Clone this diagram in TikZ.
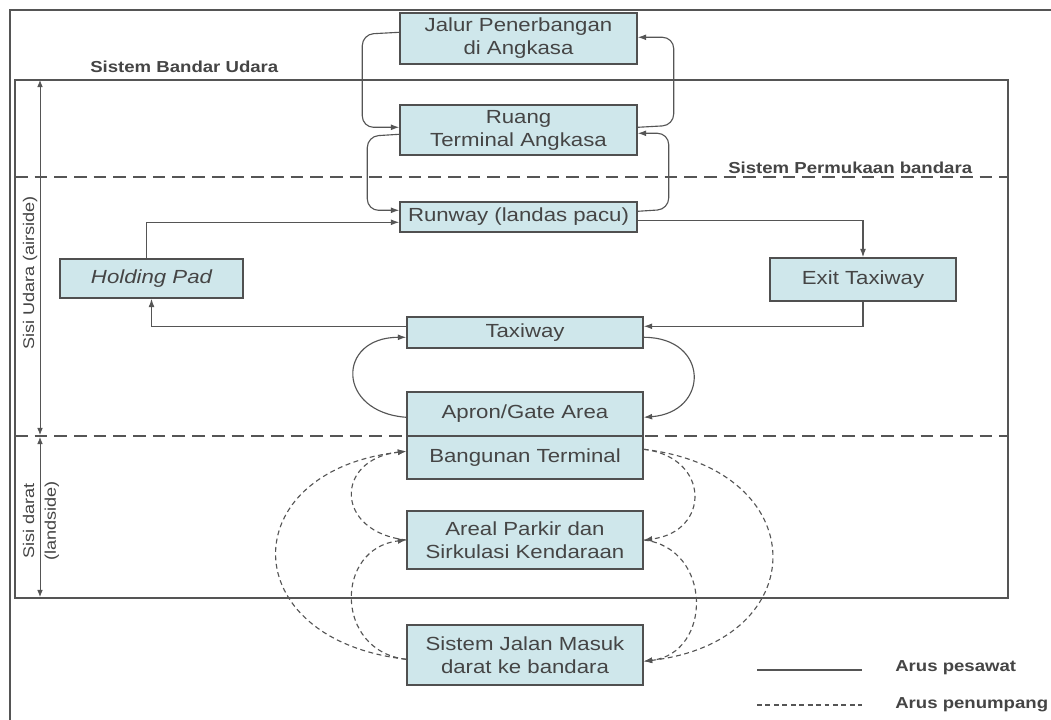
\documentclass[tikz,border=0pt]{standalone}
\usepackage{fontspec}
\setmainfont{Liberation Sans}[FakeStretch=1.17]
\usetikzlibrary{arrows.meta,calc}
\definecolor{boxfill}{HTML}{CFE7EB}
\definecolor{boxline}{HTML}{505050}
\definecolor{ink}{HTML}{454545}
\definecolor{lin}{HTML}{555555}
\begin{document}
\begin{tikzpicture}[x=0.025cm,y=-0.025cm,
  box/.style 2 args={draw=boxline, line width=1pt, fill=boxfill, text=ink, inner sep=0pt, align=center,
     minimum width=#1*0.025cm, minimum height=#2*0.025cm, font=\fontsize{13.5}{16.4}\selectfont},
  flow/.style={draw=lin, line width=0.8pt, -{Latex[length=6pt,width=4.2pt]}},
  pax/.style={flow, dash pattern=on 3.5pt off 2.5pt},
  lbl/.style={text=ink, font=\fontsize{11.3}{13}\selectfont\bfseries, inner sep=0pt},
  side/.style={text=ink, inner sep=0pt, rotate=90, align=center, font=\fontsize{11}{15.6}\selectfont},
  sep/.style={draw=lin, line width=1pt, dash pattern=on 9pt off 5pt},
  dim/.style={draw=lin, line width=0.6pt, {Latex[length=5pt,width=4pt]}-{Latex[length=5pt,width=4pt]}},
]
\useasboundingbox (0,0) rectangle (1051,720);
\fill[white] (0,0) rectangle (1051,720);

% frames
\draw[lin, line width=1.3pt] (1051,10) -- (10,10) -- (10,720);
\draw[lin, line width=1.4pt] (15,80) rectangle (1008,598);
\draw[sep] (15,177) -- (1008,177);
\draw[sep] (15,436) -- (1008,436);

% labels
\node[lbl, anchor=west] (sbu) at (90,67) {Sistem Bandar Udara};
\node[lbl, anchor=west] (spb) at (728,168) {Sistem Permukaan bandara};
\node[side] (airside) at (30,273) {Sisi Udara (airside)};
\node[side] (landside) at (41,521) {Sisi darat\\(landside)};

% dimension arrows
\coordinate (d1) at (40,80);
\coordinate (d2) at (40,435);
\coordinate (d3) at (40,437);
\coordinate (d4) at (40,597);
\draw[dim] (d1) -- (d2);
\draw[dim] (d3) -- (d4);

% boxes
\node[box={237}{51}] (jalur) at (518.5,38.5) {Jalur Penerbangan\\di Angkasa};
\node[box={237}{50}] (ruang) at (518.5,130) {Ruang\\Terminal Angkasa};
\node[box={237}{30}] (runway) at (518.5,217) {Runway (landas pacu)};
\node[box={183}{39}] (hold) at (151.5,278.5) {\itshape Holding Pad};
\node[box={186}{43}] (exit) at (863,279.5) {Exit Taxiway};
\node[box={236}{31}] (taxi) at (525,332.5) {Taxiway};
\node[box={236}{44}] (apron) at (525,414) {Apron/Gate Area};
\node[box={236}{43}] (bang) at (525,457.5) {Bangunan Terminal};
\node[box={236}{58}] (areal) at (525,540) {Areal Parkir dan\\Sirkulasi Kendaraan};
\node[box={236}{60}] (jalan) at (525,655) {Sistem Jalan Masuk\\darat ke bandara};

% aircraft flow
\draw[flow, rounded corners=8pt] ($(jalur.north west)+(0,20)$) -- ++(-37,2) |- ($(ruang.north west)+(0,23)$);
\draw[flow, rounded corners=8pt] ($(ruang.north west)+(0,30)$) -- ++(-32,2) |- ($(runway.north west)+(0,9)$);
\draw[flow, rounded corners=8pt] ($(ruang.north east)+(0,23)$) -- ++(36,-2) |- ($(jalur.north east)+(0,25)$);
\draw[flow, rounded corners=8pt] ($(runway.north east)+(0,10)$) -- ++(31,-2) |- ($(ruang.north east)+(0,29)$);
\draw[flow] ($(hold.north west)+(87,0)$) |- ($(runway.north west)+(0,21)$);
\draw[flow] ($(runway.north east)+(0,19)$) -| (exit.north);
\draw[flow] (exit.south) |- ($(taxi.north east)+(0,10)$);
\draw[flow] ($(taxi.north west)+(0,10)$) -| (hold.south);
\draw[flow] ($(apron.north west)+(0,26)$) .. controls +(-70,-5) and +(-70,0) .. ($(taxi.north west)+(0,21)$);
\draw[flow] ($(taxi.north east)+(0,21)$) .. controls +(66,0) and +(66,-5) .. ($(apron.north east)+(0,26)$);

% passenger flow
\draw[pax] ($(jalan.north west)+(0,35)$) .. controls +(-173,-20) and +(-173,20) .. ($(bang.north west)+(0,16)$);
\draw[pax] (areal.west) .. controls +(-72,-8) and +(-72,8) .. ($(bang.north west)+(0,16)$);
\draw[pax] ($(jalan.north west)+(0,35)$) .. controls +(-72,-8) and +(-72,8) .. (areal.west);
\draw[pax] ($(bang.north east)+(0,14)$) .. controls +(67,8) and +(67,-8) .. (areal.east);
\draw[pax] (areal.east) .. controls +(69,8) and +(69,-8) .. ($(jalan.north east)+(0,37)$);
\draw[pax] ($(bang.north east)+(0,14)$) .. controls +(171,20) and +(171,-20) .. ($(jalan.north east)+(0,37)$);

% legend
\coordinate (la) at (757,670);
\coordinate (lb) at (862,670);
\coordinate (lc) at (757,705);
\coordinate (ld) at (862,705);
\draw[lin, line width=0.8pt] (la) -- (lb);
\draw[lin, line width=0.8pt, dash pattern=on 3.5pt off 2.5pt] (lc) -- (ld);
\node[lbl, anchor=west] (lg1) at (895,668) {Arus pesawat};
\node[lbl, anchor=west] (lg2) at (895,705) {Arus penumpang};
\end{tikzpicture}
\end{document}
